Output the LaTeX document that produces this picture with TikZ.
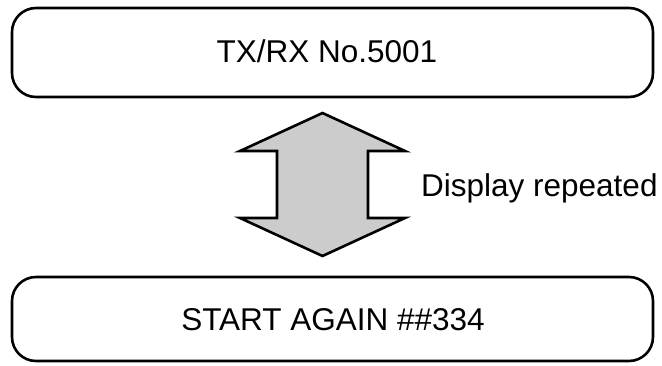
\documentclass[tikz,border=0pt]{standalone}
\usepackage{fontspec}
\setmainfont{Liberation Sans}
\begin{document}
\begin{tikzpicture}[x=1pt,y=-1pt,
  box/.style={draw=black, line width=2.6pt, rounded corners=24pt, fill=white,
    minimum width=641pt, inner sep=0pt},
  txt/.style={font=\fontsize{31.5}{36}\selectfont, inner sep=0pt, anchor=base},
  arr/.style={draw=black, line width=2.6pt, fill=black!20, line join=miter},
  lbl/.style={font=\fontsize{31.5}{36}\selectfont, inner sep=0pt, anchor=base west}]
\useasboundingbox (0,0) rectangle (662,365);
\node[box, minimum height=89pt] (top) at (332.5,52.5) {};
\node[txt] (toptext) at (327,62) {TX/RX No.5001};
\node[box, minimum height=84pt] (bot) at (332.5,319) {};
\node[txt] (bottext) at (333,330) {START AGAIN \#\#334};
\draw[arr] (322.5,113) -- (405,151) -- (368,151) -- (368,218) -- (405,218)
  -- (322.5,256) -- (240,218) -- (277,218) -- (277,151) -- (240,151) -- cycle;
\node[lbl] (rep) at (421,196.5) {Display repeated};
\end{tikzpicture}
\end{document}
